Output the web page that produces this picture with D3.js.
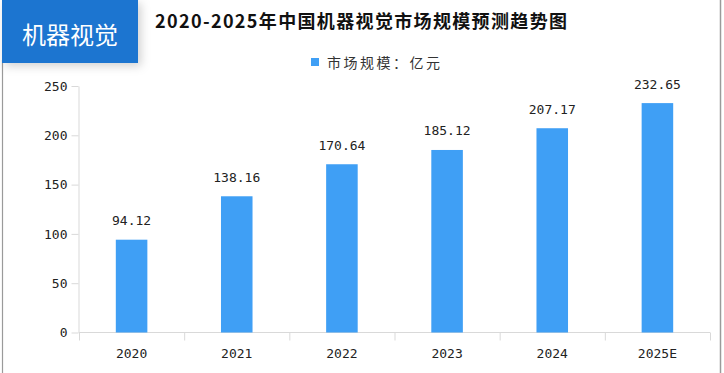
<!DOCTYPE html>
<html>
<head>
<meta charset="utf-8">
<script src="https://cdn.jsdelivr.net/npm/d3@7"></script>
<style>
  body { margin: 0; background: #fff; }
  svg { display: block; }
</style>
</head>
<body>
<div id="chart"></div>
<script>
// data
const years = ["2020", "2021", "2022", "2023", "2024", "2025E"];
const marketSize = [94.12, 138.16, 170.64, 185.12, 207.17, 232.65];
const yTicks = [0, 50, 100, 150, 200, 250];
const title = "2020-2025年中国机器视觉市场规模预测趋势图";
const badgeText = "机器视觉";
const legendText = "市场规模：亿元";

const width = 724;
const height = 373;
const barColor = "#3f9ff5";
const axisColor = "#d9d9d9";
const numFont = "'DejaVu Sans Mono', 'Liberation Mono', monospace";
const cjkFont = "'Noto Sans CJK SC', sans-serif";

const svg = d3.select("#chart").append("svg")
    .attr("width", width)
    .attr("height", height);

// frame lines
svg.append("line")
    .attr("x1", 2.5).attr("x2", 2.5).attr("y1", 60).attr("y2", height)
    .attr("stroke", "#9a9a9a").attr("stroke-width", 1.2);
svg.append("line")
    .attr("x1", 720.5).attr("x2", 720.5).attr("y1", 0).attr("y2", height)
    .attr("stroke", "#9a9a9a").attr("stroke-width", 1.5);

// shadow for the badge
const defs = svg.append("defs");
const f = defs.append("filter").attr("id", "shadow")
    .attr("x", "-20%").attr("y", "-20%").attr("width", "150%").attr("height", "160%");
f.append("feDropShadow")
    .attr("dx", 3).attr("dy", 3).attr("stdDeviation", 5)
    .attr("flood-color", "#000").attr("flood-opacity", 0.18);

svg.append("rect")
    .attr("x", 2).attr("y", 0).attr("width", 136).attr("height", 63)
    .attr("fill", "#1e74d0")
    .attr("filter", "url(#shadow)");
svg.append("text")
    .attr("x", 70).attr("y", 33)
    .attr("text-anchor", "middle")
    .attr("dominant-baseline", "central")
    .attr("fill", "#fff")
    .attr("font-family", cjkFont)
    .attr("font-size", 24)
    .text(badgeText);

// title
svg.append("text")
    .attr("x", 155).attr("y", 20)
    .attr("dominant-baseline", "central")
    .attr("fill", "#111")
    .attr("font-family", cjkFont)
    .attr("font-weight", "bold")
    .attr("font-size", 18)
    .attr("textLength", 412)
    .attr("lengthAdjust", "spacing")
    .text(title);

// legend
svg.append("rect")
    .attr("x", 311).attr("y", 58).attr("width", 8).attr("height", 8)
    .attr("fill", barColor);
svg.append("text")
    .attr("x", 327).attr("y", 62)
    .attr("dominant-baseline", "central")
    .attr("fill", "#333")
    .attr("font-family", cjkFont)
    .attr("font-size", 14)
    .attr("textLength", 113)
    .attr("lengthAdjust", "spacing")
    .text(legendText);

// scales
const x = d3.scaleBand()
    .domain(years)
    .range([79, 710])
    .paddingInner(0.7)
    .paddingOuter(0.35);

const y = d3.scaleLinear()
    .domain([0, 250])
    .range([332.5, 86]);

// y axis
const yAxis = svg.append("g")
    .attr("transform", "translate(78.5,0)")
    .call(d3.axisLeft(y).tickValues(yTicks).tickSize(7).tickSizeOuter(0).tickPadding(4));
yAxis.select(".domain").attr("stroke", axisColor);
yAxis.selectAll(".tick line").attr("stroke", axisColor);
yAxis.selectAll(".tick text")
    .attr("fill", "#222")
    .attr("font-family", numFont)
    .attr("font-size", 13);

// x axis: baseline, boundary ticks and labels
const step = x.step();
const bounds = years.map(d => x(d) - step * x.paddingOuter());
bounds.push(x.range()[1]);

svg.append("line")
    .attr("x1", x.range()[0]).attr("x2", x.range()[1])
    .attr("y1", y(0)).attr("y2", y(0))
    .attr("stroke", axisColor);

svg.append("g")
    .selectAll("line")
    .data(bounds)
    .join("line")
    .attr("x1", d => d + 0.5).attr("x2", d => d + 0.5)
    .attr("y1", y(0)).attr("y2", y(0) + 8)
    .attr("stroke", axisColor);

svg.append("g")
    .selectAll("text")
    .data(years)
    .join("text")
    .attr("x", d => x(d) + x.bandwidth() / 2)
    .attr("y", 353)
    .attr("text-anchor", "middle")
    .attr("dominant-baseline", "central")
    .attr("fill", "#222")
    .attr("font-family", numFont)
    .attr("font-size", 13)
    .text(d => d);

// bars
const rows = years.map((yr, i) => ({ year: yr, value: marketSize[i] }));

svg.append("g")
    .selectAll("rect")
    .data(rows)
    .join("rect")
    .attr("x", d => x(d.year))
    .attr("y", d => y(d.value))
    .attr("width", x.bandwidth())
    .attr("height", d => y(0) - y(d.value))
    .attr("fill", barColor);

// value labels
svg.append("g")
    .selectAll("text")
    .data(rows)
    .join("text")
    .attr("x", d => x(d.year) + x.bandwidth() / 2)
    .attr("y", d => y(d.value) - 19)
    .attr("text-anchor", "middle")
    .attr("dominant-baseline", "central")
    .attr("fill", "#222")
    .attr("font-family", numFont)
    .attr("font-size", 13)
    .text(d => d.value.toFixed(2));
</script>
</body>
</html>
